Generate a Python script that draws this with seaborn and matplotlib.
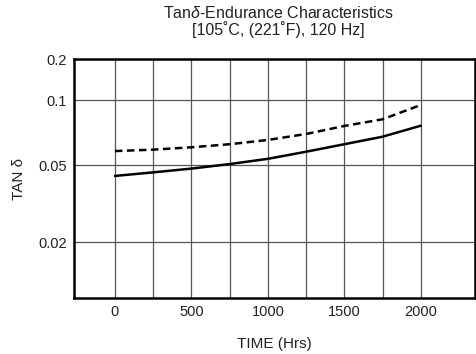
import numpy as np
import pandas as pd
import matplotlib
matplotlib.use("Agg")
import matplotlib.pyplot as plt
import seaborn as sns

# ---- data ----
hours = [0, 250, 500, 750, 1000, 1250, 1500, 1750, 2000]
tan_solid = [0.0439, 0.0458, 0.0479, 0.0505, 0.0534, 0.0576, 0.0624, 0.0676, 0.0760]
tan_dashed = [0.0580, 0.0589, 0.0604, 0.0624, 0.0653, 0.0696, 0.0758, 0.0814, 0.0948]
x_ticks = [0, 500, 1000, 1500, 2000]
x_tick_labels = ["0", "500", "1000", "1500", "2000"]
y_ticks = [0.02, 0.05, 0.1, 0.2]
y_tick_labels = ["0.02", "0.05", "0.1", "0.2"]

sns.set_style("white")
plt.rcParams["font.family"] = ["Liberation Sans", "DejaVu Sans"]
plt.rcParams["mathtext.fontset"] = "custom"
plt.rcParams["mathtext.it"] = "Liberation Sans:italic"
plt.rcParams["mathtext.rm"] = "Liberation Sans"

df = pd.DataFrame({
    "hours": hours * 2,
    "tan": tan_solid + tan_dashed,
    "series": ["a"] * len(hours) + ["b"] * len(hours),
})

# chart's non-uniform logarithmic-like vertical scale (piecewise in log space)
anchor_vals = np.log10([0.0103, 0.02, 0.05, 0.1, 0.2])
anchor_pos = np.array([0.0, 56.0, 133.0, 198.0, 239.0])

def fwd(v):
    v = np.asarray(v, dtype=float)
    lv = np.log10(np.clip(v, 1e-6, None))
    out = np.interp(lv, anchor_vals, anchor_pos)
    out = np.where(lv < anchor_vals[0], anchor_pos[0] + (lv - anchor_vals[0]) * 193.5, out)
    out = np.where(lv > anchor_vals[-1], anchor_pos[-1] + (lv - anchor_vals[-1]) * 136.0, out)
    return out

def inv(p):
    p = np.asarray(p, dtype=float)
    lv = np.interp(p, anchor_pos, anchor_vals)
    lv = np.where(p < anchor_pos[0], anchor_vals[0] + (p - anchor_pos[0]) / 193.5, lv)
    lv = np.where(p > anchor_pos[-1], anchor_vals[-1] + (p - anchor_pos[-1]) / 136.0, lv)
    return 10 ** lv

fig = plt.figure(figsize=(4.76, 3.54), dpi=100)
ax = fig.add_axes([74 / 476, 1 - 298 / 354, (475 - 74) / 476, (298 - 59) / 354])
ax.set_yscale("function", functions=(fwd, inv))

sns.lineplot(data=df, x="hours", y="tan", style="series",
             dashes={"a": "", "b": (3.0, 1.8)}, color="black",
             linewidth=1.8, legend=False, ax=ax)

ax.set_xlim(-268, 2355)
ax.set_ylim(0.0103, 0.2)

ax.set_xticks(x_ticks)
ax.set_xticklabels(x_tick_labels)
ax.set_xticks([250, 750, 1250, 1750], minor=True)
ax.set_yticks(y_ticks)
ax.set_yticklabels(y_tick_labels)
ax.yaxis.set_minor_locator(matplotlib.ticker.NullLocator())

ax.grid(True, which="both", color="#555555", linewidth=0.9)
ax.set_axisbelow(True)
ax.tick_params(which="both", length=0, labelsize=10.5, colors="#222222", pad=5)

for s in ax.spines.values():
    s.set_color("black")
    s.set_linewidth(1.8)

ax.set_xlabel("TIME (Hrs)", fontsize=11, color="#222222", labelpad=13)
ax.set_ylabel("TAN δ", fontsize=11, color="#222222", labelpad=9)
ax.set_title("Tan$\\delta$-Endurance Characteristics\n[105˚C, (221˚F), 120 Hz]",
             fontsize=11.5, color="#222222", pad=17, linespacing=1.05, x=0.51)

fig.savefig("out.png", dpi=100)
